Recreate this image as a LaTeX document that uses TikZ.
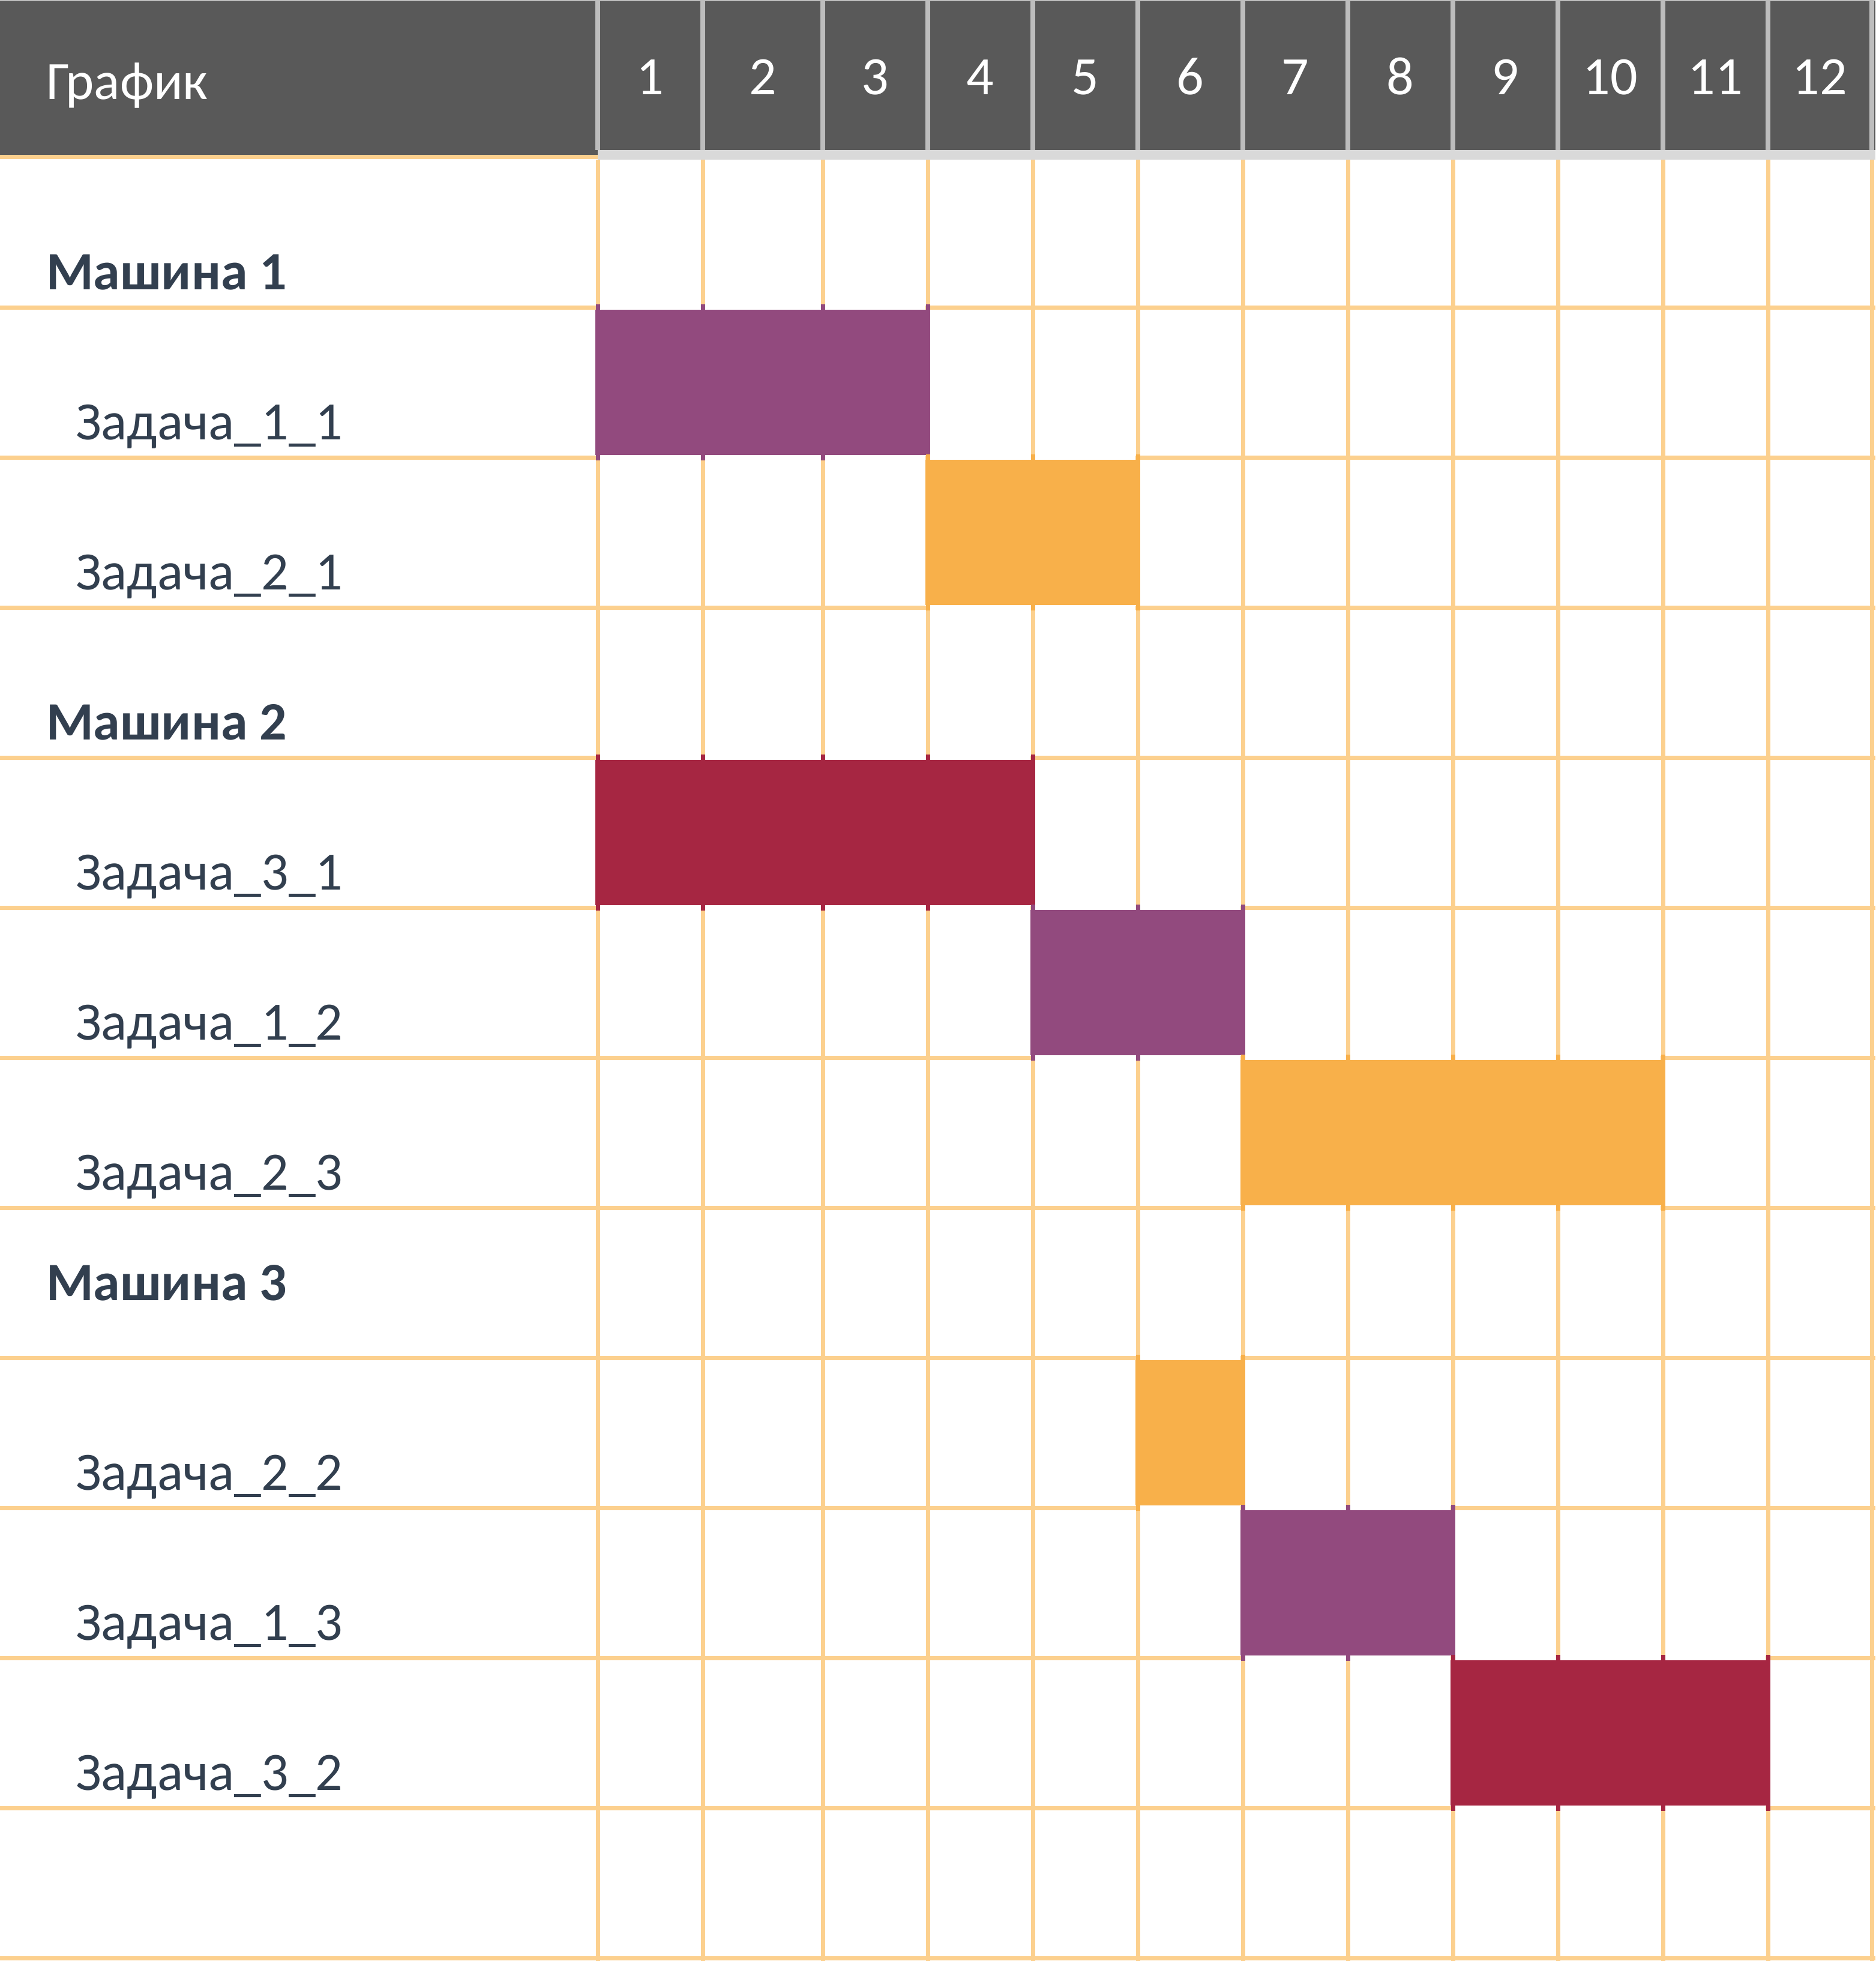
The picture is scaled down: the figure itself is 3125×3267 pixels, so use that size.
\documentclass[tikz,border=0pt]{standalone}
\usepackage{fontspec}
\setmainfont{Carlito}
\definecolor{hdr}{HTML}{595959}
\definecolor{hdrsep}{HTML}{BDBDBD}
\definecolor{strip}{HTML}{D9D9D9}
\definecolor{grid}{HTML}{FCD08E}
\definecolor{txt}{HTML}{323F4F}
\definecolor{barpurple}{HTML}{924A7E}
\definecolor{barorange}{HTML}{F8B04A}
\definecolor{barred}{HTML}{A62642}
\tikzset{
  gridline/.style={draw=grid, line width=7pt},
  sepline/.style={draw=hdrsep, line width=8pt},
  hdrtext/.style={text=white, font=\fontsize{90}{108}\selectfont, inner sep=0pt},
  machine/.style={text=txt, font=\fontsize{90}{108}\selectfont\bfseries, inner sep=0pt, anchor=base west},
  task/.style={text=txt, font=\fontsize{90}{108}\selectfont, inner sep=0pt, anchor=base west},
}
\newcommand{\ganttbar}[5]{%
  \fill[white] (#1+4,#3-4) rectangle (#2-4,#4+4);
  \begin{scope}
    \clip (#1-4,#3-5) rectangle (#2+4,#4+5);
    \foreach \xx in {996,1171,1371,1546,1721,1896,2071,2246,2421,2596,2771,2946,3119}
      \draw[draw=#5, line width=7pt] (\xx,#3-5) -- (\xx,#4+5);
  \end{scope}
  \fill[#5] (#1-4,#3+4) rectangle (#2+4,#4-4);
}
\begin{document}
\begin{tikzpicture}[x=1pt,y=-1pt]
\useasboundingbox (0,0) rectangle (3125,3267);
\fill[white] (0,0) rectangle (3125,3267);
% header
\fill[hdr] (0,0) rectangle (3125,250);
\fill[hdr] (0,0) rectangle (996,258);
\fill[strip] (996,250) rectangle (3125,266);
\draw[draw=hdrsep, line width=3pt] (0,1) -- (3125,1);
\foreach \x in {996,1171,1371,1546,1721,1896,2071,2246,2421,2596,2771,2946,3119}
  \draw[sepline] (\x,0) -- (\x,250);
% grid
\draw[gridline] (0,262) -- (996,262);
\foreach \x in {996,1171,1371,1546,1721,1896,2071,2246,2421,2596,2771,2946,3119}
  \draw[gridline] (\x,266) -- (\x,3267);
\foreach \y in {512,762,1012,1262,1512,1762,2012,2262,2512,2762,3012,3262}
  \draw[gridline] (0,\y) -- (3125,\y);
% bars
\ganttbar{996}{1546}{512}{762}{barpurple}
\ganttbar{1546}{1896}{762}{1012}{barorange}
\ganttbar{996}{1721}{1262}{1512}{barred}
\ganttbar{1721}{2071}{1512}{1762}{barpurple}
\ganttbar{2071}{2771}{1762}{2012}{barorange}
\ganttbar{1896}{2071}{2262}{2512}{barorange}
\ganttbar{2071}{2421}{2512}{2762}{barpurple}
\ganttbar{2421}{2946}{2762}{3012}{barred}
% header texts
\node[hdrtext, anchor=base west] (title) at (77,166) {График};
\node[hdrtext, anchor=base] (h1) at (1083.5,158) {1};
\node[hdrtext, anchor=base] (h2) at (1271,158) {2};
\node[hdrtext, anchor=base] (h3) at (1458.5,158) {3};
\node[hdrtext, anchor=base] (h4) at (1633.5,158) {4};
\node[hdrtext, anchor=base] (h5) at (1808.5,158) {5};
\node[hdrtext, anchor=base] (h6) at (1983.5,158) {6};
\node[hdrtext, anchor=base] (h7) at (2158.5,158) {7};
\node[hdrtext, anchor=base] (h8) at (2333.5,158) {8};
\node[hdrtext, anchor=base] (h9) at (2508.5,158) {9};
\node[hdrtext, anchor=base] (h10) at (2683.5,158) {10};
\node[hdrtext, anchor=base] (h11) at (2858.5,158) {11};
\node[hdrtext, anchor=base] (h12) at (3032.5,158) {12};
% row labels
\node[machine] (m1) at (77,482) {Машина 1};
\node[task] (t11) at (126,732) {Задача\_1\_1};
\node[task] (t21) at (126,982) {Задача\_2\_1};
\node[machine] (m2) at (77,1232) {Машина 2};
\node[task] (t31) at (126,1482) {Задача\_3\_1};
\node[task] (t12) at (126,1732) {Задача\_1\_2};
\node[task] (t23) at (126,1982) {Задача\_2\_3};
\node[machine] (m3) at (77,2166) {Машина 3};
\node[task] (t22) at (126,2482) {Задача\_2\_2};
\node[task] (t13) at (126,2732) {Задача\_1\_3};
\node[task] (t32) at (126,2982) {Задача\_3\_2};
\end{tikzpicture}
\end{document}
